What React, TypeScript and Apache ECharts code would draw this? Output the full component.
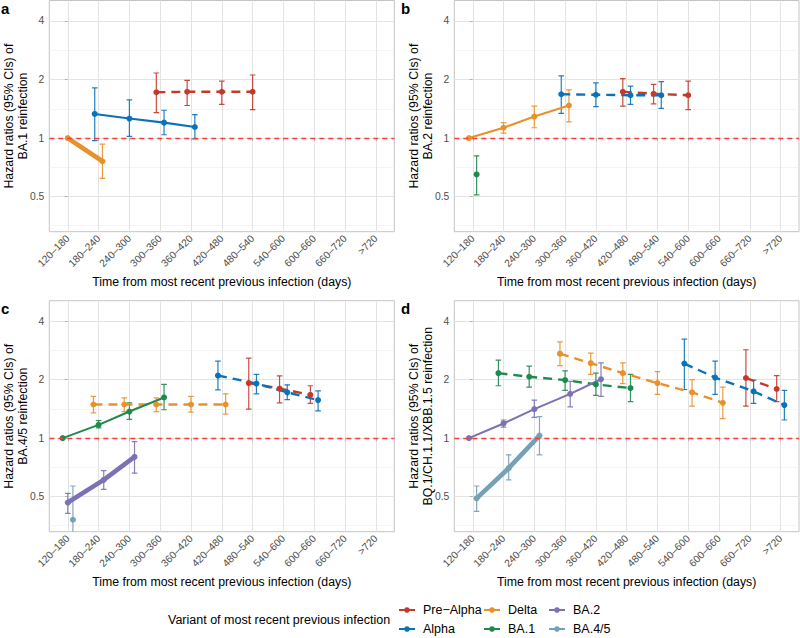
import React, { useEffect, useRef } from "react";
import * as echarts from "echarts";

// ---------- data ----------
const categories = ["120–180", "180–240", "240–300", "300–360", "360–420", "420–480", "480–540", "540–600", "600–660", "660–720", ">720"];
const variants = ["Pre-Alpha", "Alpha", "Delta", "BA.1", "BA.2", "BA.4/5"];
const yTickValues = [0.5, 1, 2, 4];
const yMinorValues = [0.354, 0.707, 1.414, 2.828];

type Row = [string, number, number | null, number | null]; // category, HR, lower CI, upper CI

// Panel a: BA.1 reinfection
const a_preAlpha: Row[] = [["300–360", 1.72, 1.35, 2.16], ["360–420", 1.73, 1.47, 1.98], ["420–480", 1.73, 1.49, 1.96], ["480–540", 1.73, 1.40, 2.11]];
const a_alpha: Row[] = [["180–240", 1.33, 0.97, 1.81], ["240–300", 1.26, 1.02, 1.57], ["300–360", 1.20, 1.04, 1.39], ["360–420", 1.14, 0.99, 1.32]];
const a_delta: Row[] = [["120–180", 1, null, null], ["180–240", 0.76, 0.62, 0.93]];

// Panel b: BA.2 reinfection
const b_preAlpha: Row[] = [["420–480", 1.73, 1.46, 2.02], ["480–540", 1.69, 1.50, 1.89], ["540–600", 1.66, 1.40, 1.96]];
const b_alpha: Row[] = [["300–360", 1.68, 1.34, 2.09], ["360–420", 1.67, 1.45, 1.92], ["420–480", 1.66, 1.49, 1.85], ["480–540", 1.66, 1.42, 1.95]];
const b_delta: Row[] = [["120–180", 1, null, null], ["180–240", 1.13, 1.06, 1.20], ["240–300", 1.29, 1.13, 1.46], ["300–360", 1.47, 1.21, 1.77]];
const b_ba1: Row[] = [["120–180", 0.65, 0.51, 0.81]];

// Panel c: BA.4/5 reinfection
const c_preAlpha: Row[] = [["480–540", 1.92, 1.41, 2.58], ["540–600", 1.80, 1.52, 2.09], ["600–660", 1.67, 1.51, 1.86]];
const c_alpha: Row[] = [["420–480", 2.10, 1.77, 2.49], ["480–540", 1.91, 1.69, 2.13], ["540–600", 1.72, 1.58, 1.88], ["600–660", 1.57, 1.38, 1.75]];
const c_delta: Row[] = [["180–240", 1.49, 1.35, 1.64], ["240–300", 1.49, 1.37, 1.61], ["300–360", 1.49, 1.37, 1.61], ["360–420", 1.49, 1.36, 1.64], ["420–480", 1.49, 1.33, 1.69]];
const c_ba1: Row[] = [["120–180", 1, null, null], ["180–240", 1.17, 1.13, 1.23], ["240–300", 1.37, 1.25, 1.52], ["300–360", 1.62, 1.40, 1.89]];
const c_ba2: Row[] = [["120–180", 0.466, 0.41, 0.52], ["180–240", 0.61, 0.545, 0.68], ["240–300", 0.80, 0.66, 0.96]];
const c_ba45: Row[] = [["120–180", 0.38, 0.29, 0.567]];

// Panel d: BQ.1/CH.1.1/XBB.1.5 reinfection
const d_preAlpha: Row[] = [["660–720", 2.04, 1.46, 2.85], [">720", 1.79, 1.54, 2.10]];
const d_alpha: Row[] = [["540–600", 2.42, 1.78, 3.23], ["600–660", 2.05, 1.68, 2.49], ["660–720", 1.74, 1.51, 1.99], [">720", 1.48, 1.24, 1.76]];
const d_delta: Row[] = [["300–360", 2.72, 2.36, 3.13], ["360–420", 2.43, 2.13, 2.74], ["420–480", 2.16, 1.91, 2.44], ["480–540", 1.92, 1.68, 2.20], ["540–600", 1.72, 1.46, 2.00], ["600–660", 1.52, 1.26, 1.83]];
const d_ba1: Row[] = [["180–240", 2.16, 1.86, 2.52], ["240–300", 2.07, 1.83, 2.35], ["300–360", 1.99, 1.76, 2.22], ["360–420", 1.89, 1.66, 2.16], ["420–480", 1.81, 1.54, 2.13]];
const d_ba2: Row[] = [["120–180", 1, null, null], ["180–240", 1.19, 1.14, 1.24], ["240–300", 1.41, 1.28, 1.57], ["300–360", 1.69, 1.45, 1.96], ["360–420", 2.01, 1.64, 2.44]];
const d_ba45: Row[] = [["120–180", 0.49, 0.42, 0.567], ["180–240", 0.70, 0.61, 0.82], ["240–300", 1.03, 0.82, 1.29]];

// ---------- styles ----------
const variantColors: Record<string, string> = {
  "Pre-Alpha": "#C33A2C",
  "Alpha": "#0A72B8",
  "Delta": "#E8912A",
  "BA.1": "#1F8A4E",
  "BA.2": "#7B71B7",
  "BA.4/5": "#74A1B5",
};

type LineKind = "solid" | "dashed" | "thick" | "point";
interface PanelDef {
  tag: string;
  outcome: string;
  grid: { left: number; top: number; width: number; height: number };
  series: { variant: string; rows: Row[]; kind: LineKind }[];
}

const panels: PanelDef[] = [
  {
    tag: "a", outcome: "BA.1 reinfection",
    grid: { left: 49.3, top: 0.5, width: 345, height: 231.2 },
    series: [
      { variant: "Pre-Alpha", rows: a_preAlpha, kind: "dashed" },
      { variant: "Alpha", rows: a_alpha, kind: "solid" },
      { variant: "Delta", rows: a_delta, kind: "thick" },
    ],
  },
  {
    tag: "b", outcome: "BA.2 reinfection",
    grid: { left: 454.3, top: 0.5, width: 344.7, height: 231.2 },
    series: [
      { variant: "Pre-Alpha", rows: b_preAlpha, kind: "dashed" },
      { variant: "Alpha", rows: b_alpha, kind: "dashed" },
      { variant: "Delta", rows: b_delta, kind: "solid" },
      { variant: "BA.1", rows: b_ba1, kind: "point" },
    ],
  },
  {
    tag: "c", outcome: "BA.4/5 reinfection",
    grid: { left: 49.3, top: 300.7, width: 345, height: 231 },
    series: [
      { variant: "Pre-Alpha", rows: c_preAlpha, kind: "dashed" },
      { variant: "Alpha", rows: c_alpha, kind: "dashed" },
      { variant: "Delta", rows: c_delta, kind: "dashed" },
      { variant: "BA.1", rows: c_ba1, kind: "solid" },
      { variant: "BA.2", rows: c_ba2, kind: "thick" },
      { variant: "BA.4/5", rows: c_ba45, kind: "point" },
    ],
  },
  {
    tag: "d", outcome: "BQ.1/CH.1.1/XBB.1.5 reinfection",
    grid: { left: 454.3, top: 300.7, width: 344.7, height: 231 },
    series: [
      { variant: "Pre-Alpha", rows: d_preAlpha, kind: "dashed" },
      { variant: "Alpha", rows: d_alpha, kind: "dashed" },
      { variant: "Delta", rows: d_delta, kind: "dashed" },
      { variant: "BA.1", rows: d_ba1, kind: "dashed" },
      { variant: "BA.2", rows: d_ba2, kind: "solid" },
      { variant: "BA.4/5", rows: d_ba45, kind: "thick" },
    ],
  },
];

const FONT = "'Liberation Sans', Arial, Helvetica, sans-serif";
const Y_MIN = -1.6;
const Y_MAX = 2.35;
const DODGE = 0.5;

function lineStyleFor(kind: LineKind, color: string) {
  if (kind === "thick") return { color, width: 4.6, type: "solid" as const, cap: "butt" as const };
  if (kind === "dashed") return { color, width: 2.4, type: [9, 6], cap: "butt" as const };
  return { color, width: 2.1, type: "solid" as const, cap: "butt" as const };
}

function buildOption() {
  const grids: any[] = [];
  const xAxes: any[] = [];
  const yAxes: any[] = [];
  const series: any[] = [];
  const graphics: any[] = [];
  const log2 = (v: number) => Math.log(v) / Math.LN2;
  const catIdx = categories.map((_, i) => i);

  panels.forEach((p, pi) => {
    grids.push({ ...p.grid, show: true, borderColor: "#C4C4C4", borderWidth: 1, backgroundColor: "transparent", containLabel: false });
    xAxes.push({
      type: "value", gridIndex: pi, min: -0.6, max: 10.6,
      axisLine: { show: false },
      axisTick: { show: true, length: 3, lineStyle: { color: "#B3B3B3", width: 1 }, customValues: catIdx },
      axisLabel: {
        customValues: catIdx, formatter: (v: number) => categories[Math.round(v)] ?? "",
        rotate: 45, fontSize: 10.3, color: "#4D4D4D", fontFamily: FONT, margin: 5, hideOverlap: false,
      },
      splitLine: { show: true, lineStyle: { color: "#E3E3E3", width: 1 } },
    });
    const majors = yTickValues.map(log2);
    const minors = yMinorValues.map(log2);
    yAxes.push({
      type: "value", gridIndex: pi, min: Y_MIN, max: Y_MAX,
      axisLine: { show: false },
      axisTick: { show: true, length: 3, lineStyle: { color: "#B3B3B3", width: 1 }, customValues: majors },
      axisLabel: {
        customValues: majors,
        formatter: (v: number) => String(+Math.pow(2, v).toFixed(2)),
        fontSize: 10.3, color: "#4D4D4D", fontFamily: FONT, margin: 5,
      },
      splitLine: { show: true, lineStyle: { color: "#E3E3E3", width: 1 } },
    });
    yAxes.push({
      type: "value", gridIndex: pi, min: Y_MIN, max: Y_MAX, position: "left",
      axisLine: { show: false },
      axisTick: { show: false, customValues: minors },
      axisLabel: { show: false, customValues: minors },
      splitLine: { show: true, lineStyle: { color: "#EFEFEF", width: 0.7 } },
    });

    // dodge positions
    const present: Record<string, string[]> = {};
    p.series.forEach((s) => s.rows.forEach((r) => {
      (present[r[0]] = present[r[0]] || []).push(s.variant);
    }));
    const xFor = (cat: string, variant: string) => {
      const list = variants.filter((v) => present[cat].includes(v));
      const n = list.length;
      const i = list.indexOf(variant);
      return categories.indexOf(cat) - DODGE / 2 + (DODGE / n) * (i + 0.5);
    };

    // reference line at HR = 1
    series.push({
      type: "line", xAxisIndex: pi, yAxisIndex: pi * 2, data: [], silent: true, z: 1,
      markLine: {
        silent: true, symbol: ["none", "none"], label: { show: false },
        lineStyle: { color: "#FF3B3B", type: [5, 4], width: 1.3 },
        emphasis: { disabled: true },
        data: [{ yAxis: 0 }],
      },
    });

    p.series.forEach((s) => {
      const color = variantColors[s.variant];
      const ebData = s.rows.filter((r) => r[2] != null && r[3] != null)
        .map((r) => [xFor(r[0], s.variant), log2(r[2] as number), log2(r[3] as number)]);
      if (ebData.length) {
        series.push({
          type: "custom", name: s.variant + " CI", xAxisIndex: pi, yAxisIndex: pi * 2, clip: true, z: 2, silent: true,
          data: ebData,
          renderItem: (_params: any, api: any) => {
            const x = api.value(0);
            const lo = api.coord([x, api.value(1)]);
            const hi = api.coord([x, api.value(2)]);
            const w = 2.8;
            const st = { stroke: color, lineWidth: 1.2, opacity: 0.9 };
            return {
              type: "group",
              children: [
                { type: "line", shape: { x1: lo[0], y1: lo[1], x2: hi[0], y2: hi[1] }, style: st },
                { type: "line", shape: { x1: lo[0] - w, y1: lo[1], x2: lo[0] + w, y2: lo[1] }, style: st },
                { type: "line", shape: { x1: hi[0] - w, y1: hi[1], x2: hi[0] + w, y2: hi[1] }, style: st },
              ],
            };
          },
        });
      }
      series.push({
        type: "line", name: s.variant, xAxisIndex: pi, yAxisIndex: pi * 2, z: 3,
        data: s.rows.map((r) => [xFor(r[0], s.variant), log2(r[1])]),
        symbol: "circle", symbolSize: 6, showSymbol: true,
        itemStyle: { color, borderWidth: 0 },
        lineStyle: lineStyleFor(s.kind, color),
        emphasis: { disabled: true },
      });
    });

    const g = p.grid;
    const cx = g.left + g.width / 2;
    graphics.push({
      type: "text", x: pi % 2 === 0 ? 1 : 401, y: g.top + 0.5,
      style: { text: p.tag, fontSize: 15, fontWeight: "bold", fontFamily: FONT, fill: "#000", align: "left", verticalAlign: "top" },
    });
    graphics.push({
      type: "text", x: g.left - 33.3, y: g.top + g.height / 2, rotation: Math.PI / 2,
      style: {
        text: "Hazard ratios (95% CIs) of\n" + p.outcome, fontSize: 12.3, lineHeight: 13.5, fontFamily: FONT,
        fill: "#000", align: "center", verticalAlign: "middle",
      },
    });
    graphics.push({
      type: "text", x: cx, y: g.top + g.height + 50.5,
      style: { text: "Time from most recent previous infection (days)", fontSize: 12.3, fontFamily: FONT, fill: "#000", align: "center", verticalAlign: "middle" },
    });
  });

  graphics.push({
    type: "text", x: 168, y: 619.5,
    style: { text: "Variant of most recent previous infection", fontSize: 12.5, fontFamily: FONT, fill: "#000", align: "left", verticalAlign: "middle" },
  });

  const legendCols = [["Pre-Alpha", "Alpha"], ["Delta", "BA.1"], ["BA.2", "BA.4/5"]];
  const legendLefts = [398, 483, 548];
  const legends = legendCols.map((names, i) => ({
    left: legendLefts[i], top: 603, orient: "vertical", padding: 0, itemGap: 5,
    itemWidth: 16, itemHeight: 7, selectedMode: false,
    textStyle: { fontSize: 12.5, fontFamily: FONT, color: "#000", lineHeight: 14, padding: [0, 0, 0, 3] },
    formatter: (n: string) => n.replace("-", "\u2212"),
    data: names.map((n) => ({
      name: n,
      itemStyle: { color: variantColors[n] },
      lineStyle: { color: variantColors[n], width: 2, type: "solid" },
    })),
  }));

  return {
    animation: false,
    textStyle: { fontFamily: FONT },
    grid: grids, xAxis: xAxes, yAxis: yAxes, series, legend: legends, graphic: graphics,
  };
}

export default function App() {
  const ref = useRef<HTMLDivElement>(null);
  useEffect(() => {
    document.body.style.margin = "0";
    if (!ref.current) return;
    const chart = echarts.init(ref.current, undefined, { renderer: "svg" });
    chart.setOption(buildOption() as any);
    return () => chart.dispose();
  }, []);
  return <div ref={ref} style={{ width: 800, height: 638 }} />;
}
